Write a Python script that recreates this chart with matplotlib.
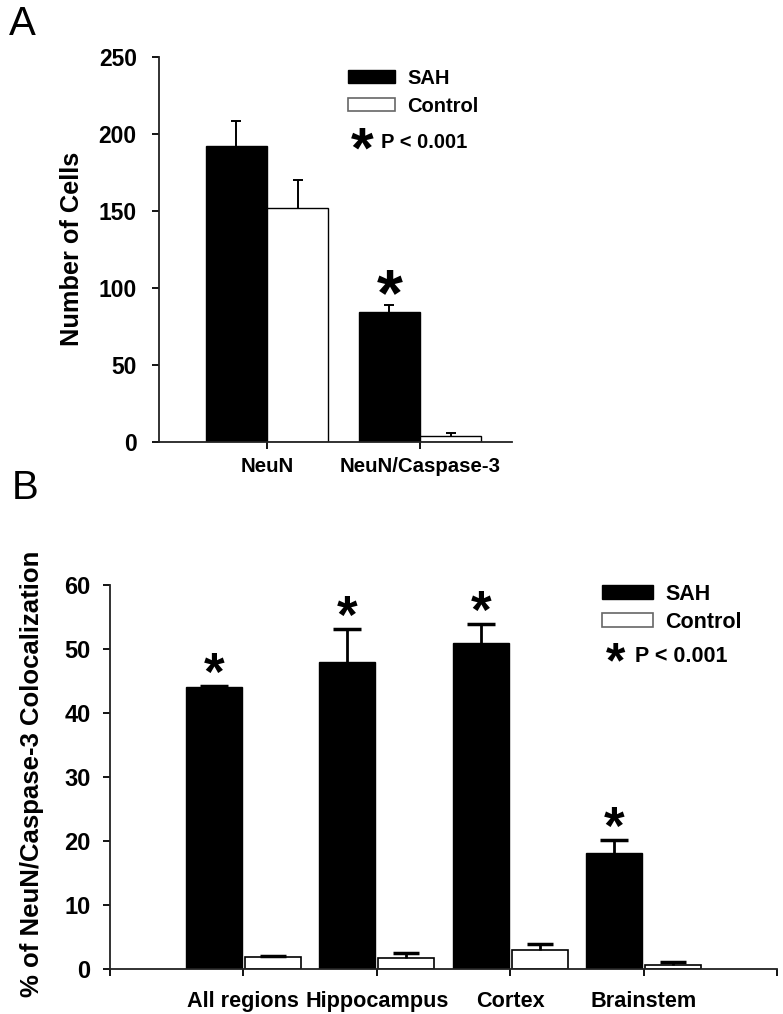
import numpy as np
import matplotlib
matplotlib.use('Agg')
import matplotlib.pyplot as plt
from matplotlib.patches import Rectangle

plt.rcParams['font.family'] = ['Liberation Sans', 'DejaVu Sans']

W, H = 783, 1014

# panel A: cell counts
groups_a = ['NeuN', 'NeuN/Caspase-3']
sah_a = [192.5, 84.2]
sah_a_err = [15.9, 4.5]
ctrl_a = [151.8, 3.7]
ctrl_a_err = [18.4, 1.8]
sig_a = [False, True]

# panel B: % colocalization by region
groups_b = ['All regions', 'Hippocampus', 'Cortex', 'Brainstem']
sah_b = [44.0, 47.9, 50.9, 18.2]
sah_b_err = [0.2, 5.2, 3.0, 2.0]
ctrl_b = [1.9, 1.7, 2.9, 0.7]
ctrl_b_err = [0.15, 0.8, 1.0, 0.4]
sig_b = [True, True, True, True]

STAR_C = 0.47  # centre of the '*' glyph above its baseline, in em


def fx(x):
    return x / W


def fy(y):
    return 1 - y / H


def style_axes(ax):
    for s in ['top', 'right']:
        ax.spines[s].set_visible(False)
    for s in ['left', 'bottom']:
        ax.spines[s].set_linewidth(1.3)
        ax.spines[s].set_color('#222222')
    for lab in ax.get_xticklabels() + ax.get_yticklabels():
        lab.set_fontweight('bold')


def bars_with_err(ax, x, vals, errs, width, face, lw, elw, cap, capw):
    ax.bar(x, vals, width, color=face, edgecolor='black', lw=lw, zorder=2)
    tops = np.array(vals) + np.array(errs)
    # upper error only, cap on top end
    ax.vlines(x, vals, tops, colors='black', lw=elw, zorder=3)
    ax.plot(x, tops, ls='none', marker='_', ms=cap, mew=capw, color='black', zorder=3)


def stars(ax, x, tops, fs, gap_px):
    em_px = fs * 100 / 72
    off = (gap_px - STAR_C * em_px) * 72 / 100
    for a, b in zip(x, tops):
        ax.annotate('*', xy=(a, b), xytext=(0, off), textcoords='offset points',
                    ha='center', va='baseline', fontsize=fs, fontweight='bold')


def legend_block(x0, y_sah, y_ctrl, y_p, pw, ph, fs, star_fs, star_x, text_x):
    fig.add_artist(Rectangle((fx(x0), fy(y_sah + ph / 2)), pw / W, ph / H,
                             facecolor='black', edgecolor='black', lw=1,
                             transform=fig.transFigure))
    fig.add_artist(Rectangle((fx(x0), fy(y_ctrl + ph / 2)), pw / W, ph / H,
                             facecolor='white', edgecolor='#666666', lw=1.2,
                             transform=fig.transFigure))
    fig.text(fx(text_x), fy(y_sah), 'SAH', fontsize=fs, fontweight='bold',
             ha='left', va='center_baseline')
    fig.text(fx(text_x), fy(y_ctrl), 'Control', fontsize=fs, fontweight='bold',
             ha='left', va='center_baseline')
    em_px = star_fs * 100 / 72
    fig.text(fx(star_x), fy(y_p + STAR_C * em_px), '*', fontsize=star_fs,
             fontweight='bold', ha='center', va='baseline')
    fig.text(fx(star_x + 19), fy(y_p), 'P < 0.001', fontsize=fs,
             fontweight='bold', ha='left', va='center_baseline')


fig = plt.figure(figsize=(W / 100, H / 100), dpi=100)

# ---------- panel A ----------
axA = fig.add_axes([fx(159), fy(441.7), 353 / W, 384.4 / H])
ind = np.arange(len(groups_a))
bars_with_err(axA, ind - 0.2, sah_a, sah_a_err, 0.4, 'black', 1, 1.4, 6.5, 1.4)
bars_with_err(axA, ind + 0.2, ctrl_a, ctrl_a_err, 0.4, 'white', 1, 1.4, 6.5, 1.4)
sig_x = [ind[i] - 0.2 for i in range(len(ind)) if sig_a[i]]
sig_top = [sah_a[i] + sah_a_err[i] for i in range(len(ind)) if sig_a[i]]
stars(axA, sig_x, sig_top, 48, 22)
axA.set_xlim(-0.706, 1.601)
axA.set_ylim(0, 250)
axA.set_yticks(np.arange(0, 251, 50))
axA.set_xticks(ind, groups_a)
axA.tick_params(axis='y', direction='out', length=5, width=1.3, pad=11, labelsize=16.5)
axA.tick_params(axis='x', direction='out', length=5, width=1.3, pad=6, labelsize=14.7)
style_axes(axA)
fig.text(fx(72), fy(249), 'Number of Cells', rotation=90, ha='center', va='center',
         fontsize=18.3, fontweight='bold')
legend_block(348, 76.5, 104.5, 140, 47, 13, 14.5, 42, 362, 407)
fig.text(fx(9), fy(35), 'A', fontsize=29, ha='left', va='baseline')

# ---------- panel B ----------
axB = fig.add_axes([fx(110), fy(969), 667 / W, 384 / H])
ind = np.arange(len(groups_b))
bars_with_err(axB, ind - 0.221, sah_b, sah_b_err, 0.42, 'black', 1, 2, 20, 2.5)
bars_with_err(axB, ind + 0.221, ctrl_b, ctrl_b_err, 0.42, 'white', 1.2, 2, 19, 2.5)
sig_x = [ind[i] - 0.221 for i in range(len(ind)) if sig_b[i]]
sig_top = [sah_b[i] + sah_b_err[i] for i in range(len(ind)) if sig_b[i]]
stars(axB, sig_x, sig_top, 38, 21)
axB.set_xlim(-1, 4)
axB.set_ylim(0, 60)
axB.set_yticks(np.arange(0, 61, 10))
axB.set_xticks(np.arange(-1, 5), [''] + groups_b + [''])
axB.tick_params(axis='y', direction='out', length=5, width=1.3, pad=9, labelsize=17)
axB.tick_params(axis='x', direction='out', length=5, width=1.3, pad=11, labelsize=15.6)
style_axes(axB)
fig.text(fx(32.5), fy(773.5), '% of NeuN/Caspase-3 Colocalization', rotation=90,
         ha='center', va='center', fontsize=18.5, fontweight='bold')
legend_block(601.5, 591.5, 620, 654, 51, 14, 15.5, 36, 616, 665)
fig.text(fx(12), fy(499), 'B', fontsize=29, ha='left', va='baseline')

fig.savefig('out.png', dpi=100)
